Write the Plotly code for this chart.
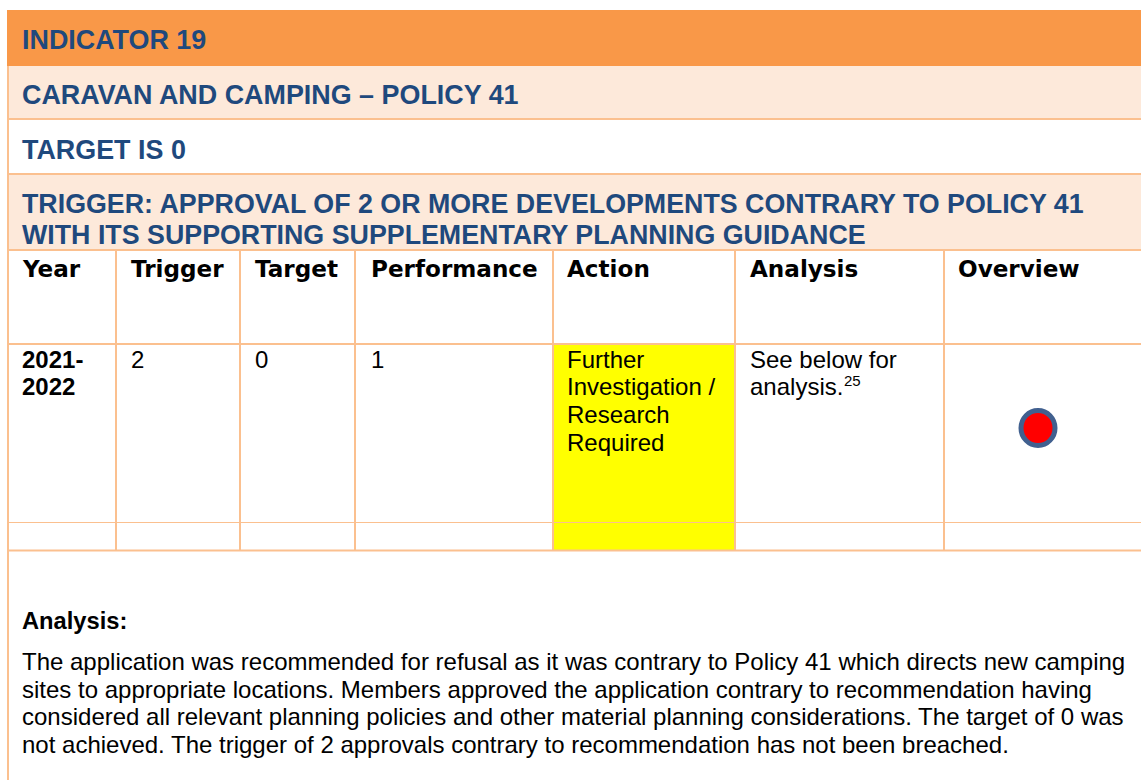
import plotly.graph_objects as go

# ---- content ----
banner_titles = ["INDICATOR 19", "CARAVAN AND CAMPING – POLICY 41", "TARGET IS 0"]
trigger_lines = ["TRIGGER: APPROVAL OF 2 OR MORE DEVELOPMENTS CONTRARY TO POLICY 41",
                 "WITH ITS SUPPORTING SUPPLEMENTARY PLANNING GUIDANCE"]
columns = ["Year", "Trigger", "Target", "Performance", "Action", "Analysis", "Overview"]
year_lines = ["2021-", "2022"]
trigger_value = ["2"]
target_value = ["0"]
performance_value = ["1"]
action_lines = ["Further", "Investigation /", "Research", "Required"]
analysis_lines = ["See below for", "analysis."]
footnote = "25"
analysis_title = "Analysis:"
analysis_body = [
    "The application was recommended for refusal as it was contrary to Policy 41 which directs new camping",
    "sites to appropriate locations. Members approved the application contrary to recommendation having",
    "considered all relevant planning policies and other material planning considerations. The target of 0 was",
    "not achieved. The trigger of 2 approvals contrary to recommendation has not been breached.",
]

# ---- page geometry and styles (pixels) ----
W, H = 1141, 780
ORANGE, PEACH, BLUE, RULE = "#F99848", "#FDE9DA", "#1F497D", "#FBC08F"
YELLOW, RED, RING = "#FFFF00", "#FF0000", "#41608F"
col_edges = [7, 116, 240, 355, 553, 735, 944]
col_text = [22, 131, 255, 371, 567, 750, 958]
SANS = "Liberation Sans, Arial, sans-serif"
HEAVY = "DejaVu Sans, sans-serif"

shapes, notes = [], []

def rect(x0, y0, x1, y1, fill):
    shapes.append(dict(type="rect", x0=x0, x1=x1, y0=y0, y1=y1, fillcolor=fill,
                       line=dict(width=0), layer="below"))

def rule(x0, y0, x1, y1, width=2):
    shapes.append(dict(type="line", x0=x0, x1=x1, y0=y0, y1=y1,
                       line=dict(color=RULE, width=width), layer="below"))

def text(x, y, s, size, color="#000000", bold=False, family=SANS):
    notes.append(dict(x=x, y=y, text=s, xref="x", yref="y", xanchor="left", yanchor="middle",
                      showarrow=False, borderpad=0, borderwidth=0,
                      font=dict(family=family, size=size, color=color,
                                weight="bold" if bold else "normal")))

# bands
rect(7, 10, W, 66, ORANGE)
rect(7, 66, W, 119, PEACH)
rect(7, 174, W, 250, PEACH)
rect(553, 344, 735, 551, YELLOW)

# rules
for y in (119, 174, 250, 344, 550.5):
    rule(7, y, W, y)
rule(7, 522.5, W, 522.5, 1)
rule(8, 66, 8, H)
for x in col_edges[1:]:
    rule(x, 250, x, 551)

# banners
for y, s in zip((40, 95, 150), banner_titles):
    text(22, y, s, 26.9, BLUE, True)
for y, s in zip((204, 234.5), trigger_lines):
    text(22, y, s, 26.8, BLUE, True)

# table header
for x, s in zip(col_text, columns):
    text(x, 269, s, 23.1, "#000000", True, HEAVY)

# table row
for y, s in zip((359.5, 386.5), year_lines):
    text(col_text[0], y, s, 24, "#000000", True)
text(col_text[1], 359.5, trigger_value[0], 24)
text(col_text[2], 359.5, target_value[0], 24)
text(col_text[3], 359.5, performance_value[0], 24)
for y, s in zip((359.5, 386.5, 414.5, 442.5), action_lines):
    text(col_text[4], y, s, 24)
for y, s in zip((359.5, 386.5), analysis_lines):
    text(col_text[5], y, s, 24)
text(844, 380, footnote, 15)

# status marker
shapes.append(dict(type="circle", x0=1021, x1=1055, y0=410.5, y1=445.5, fillcolor=RED,
                   line=dict(color=RING, width=5), layer="above"))

# analysis text
text(22, 621, analysis_title, 23.7, "#000000", True)
for y, s in zip((661.5, 689.5, 716.5, 744.5), analysis_body):
    text(22, y, s, 24)

fig = go.Figure()
fig.update_layout(
    width=W, height=H, margin=dict(l=0, r=0, t=0, b=0),
    paper_bgcolor="#FFFFFF", plot_bgcolor="#FFFFFF", showlegend=False,
    xaxis=dict(range=[0, W], visible=False, fixedrange=True),
    yaxis=dict(range=[H, 0], visible=False, fixedrange=True),
    shapes=shapes, annotations=notes,
)
fig.write_html("out.html", config=dict(displayModeBar=False),
               post_script="document.body.style.margin='0';document.documentElement.style.overflow='hidden';")
